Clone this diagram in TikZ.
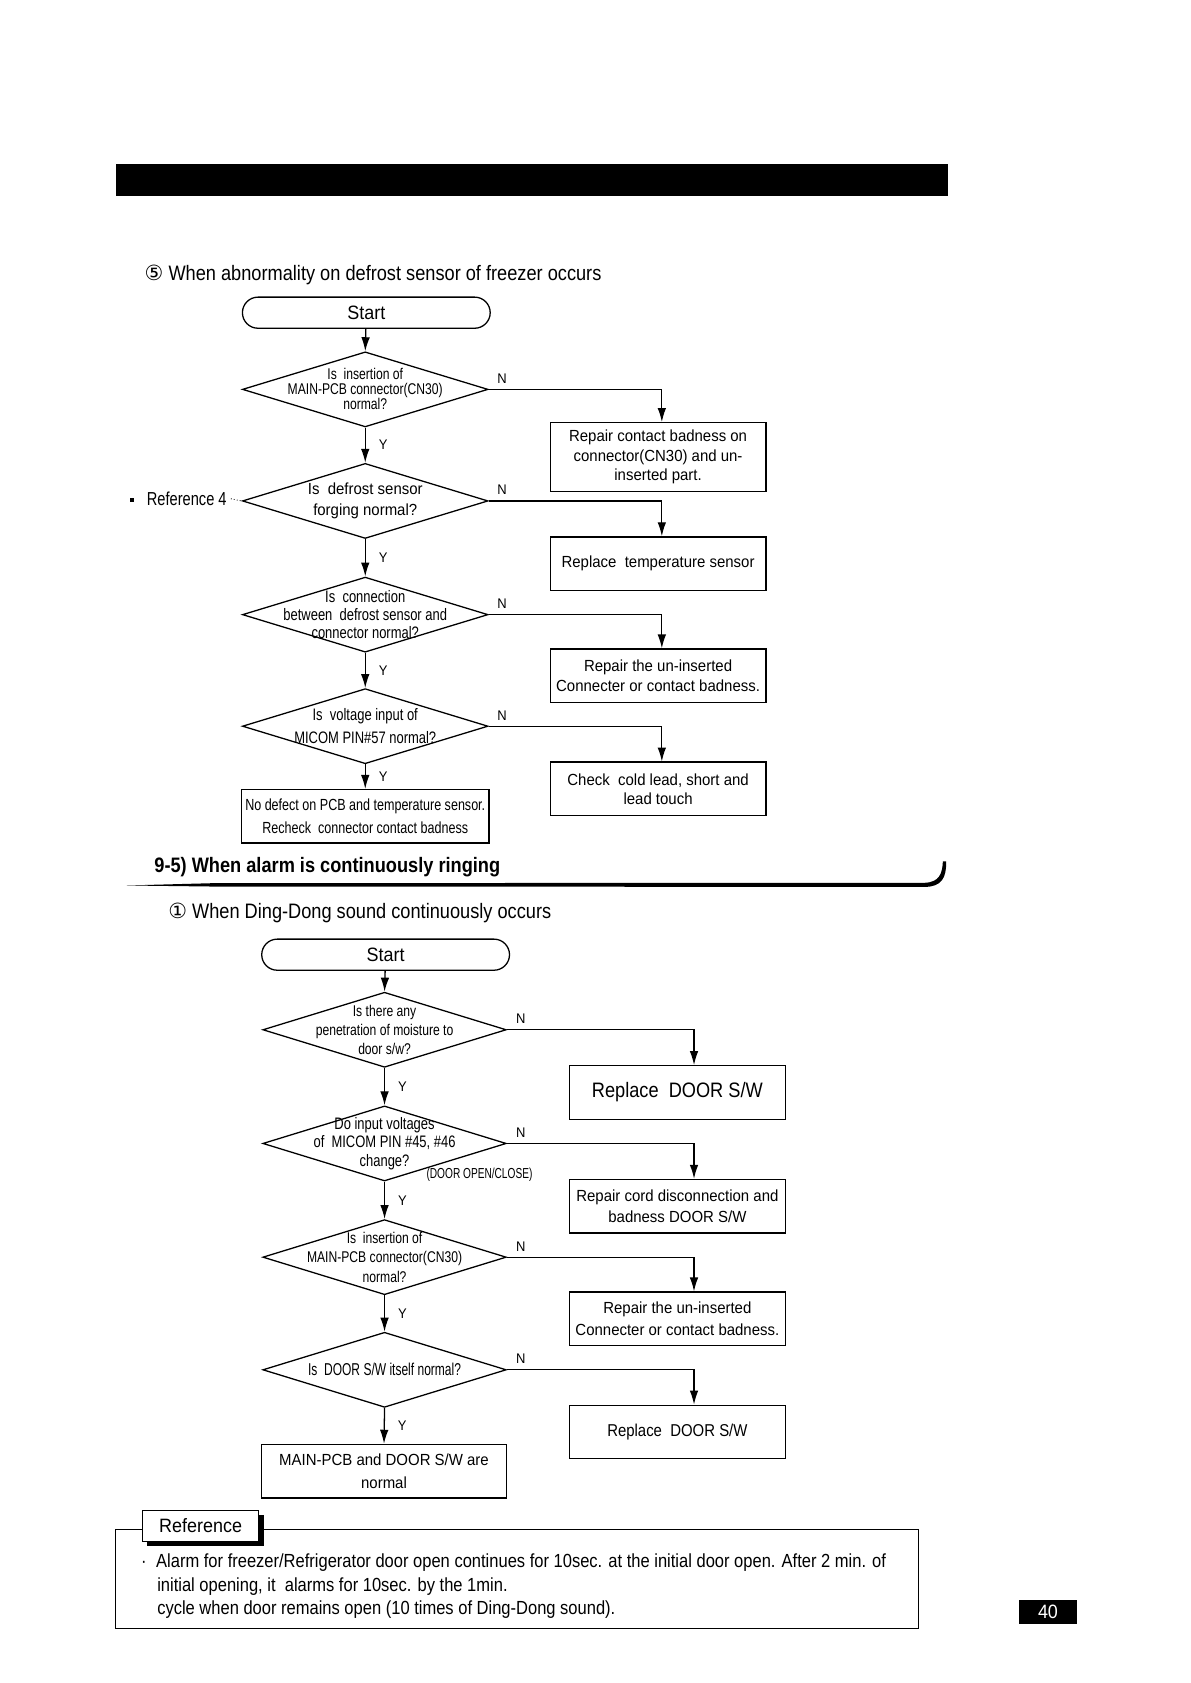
\documentclass[tikz,border=0pt]{standalone}
\usepackage{fontspec}
\setmainfont{Liberation Sans}
\newfontfamily\fntbox[FakeStretch=0.93]{Liberation Sans}
\newfontfamily\fntq[FakeStretch=0.87]{Liberation Sans}
\newfontfamily\fntc[FakeStretch=0.78]{Liberation Sans}
\newfontfamily\fntx[FakeStretch=0.70]{Liberation Sans}
\newfontfamily\fntsym{DejaVu Sans}
\usetikzlibrary{arrows.meta}
\usetikzlibrary{shapes.geometric}
\usetikzlibrary{positioning}
\tikzset{
  % arrow tips and connectors
  >={Latex[length=13pt,width=8pt]},
  line/.style={draw, ->},
  % flowchart blocks
  decision/.style={draw, diamond, inner sep=0pt, minimum width=229pt, minimum height=70pt},
  action/.style={draw, rectangle, minimum width=201pt, minimum height=50pt, align=center, inner sep=2pt, font=\fntbox\fontsize{15}{18}\selectfont},
  terminal/.style={draw, rectangle, rounded corners=14.5pt, minimum width=231pt, minimum height=29pt, font=\fntbox\fontsize{18}{20}\selectfont},
  qtext/.style={align=center, inner sep=0pt},
  ylab/.style={anchor=west, xshift=11pt, inner sep=1pt, font=\fntbox\fontsize{13}{13}\selectfont},
  nlab/.style={pos=0.02, anchor=south west, yshift=4pt, inner sep=1pt, font=\fntbox\fontsize{13}{13}\selectfont}
}
\begin{document}
\begin{tikzpicture}[x=1pt, y=-1pt, line width=1.2pt]
    \useasboundingbox (0,0) rectangle (1110,1569);

    % page banner
    \fill (108,153) rectangle (884,183);

    % 5) defrost sensor of freezer
    \node[anchor=west, font=\fntq\fontsize{19.5}{20}\selectfont] (title5) at (131,256) {{\fntsym ⑤} When abnormality on defrost sensor of freezer occurs};

    \node[terminal] (start5) at (341.5,291.5) {Start};
    \node[decision, label={[qtext, font=\fntc\fontsize{14.5}{14}\selectfont]center:{Is\ \ insertion of\\MAIN-PCB connector(CN30)\\normal?}}] (q51) at (340.5,363) {};
    \node[decision, label={[qtext, font=\fntbox\fontsize{15}{20}\selectfont]center:{Is\ \ defrost sensor\\forging normal?}}] (q52) at (340.5,467) {};
    \node[decision, label={[qtext, font=\fntc\fontsize{15.5}{16.5}\selectfont]center:{Is\ \ connection\\between\ \ defrost sensor and\\connector normal?}}] (q53) at (340.5,573) {};
    \node[decision, label={[qtext, font=\fntc\fontsize{15.5}{21}\selectfont]center:{Is\ \ voltage input of\\MICOM PIN\#57 normal?}}] (q54) at (340.5,677) {};
    \node[action, minimum width=231pt, font=\fntc\fontsize{15}{22}\selectfont] (end5) at (340.5,761) {No defect on PCB and temperature sensor.\\Recheck\ \ connector contact badness};

    \node[action, minimum height=64pt] (fix51) at (613.5,426) {Repair contact badness on\\connector(CN30) and un-\\inserted part.};
    \node[action] (fix52) at (613.5,525.5) {Replace\ \ temperature sensor};
    \node[action] (fix53) at (613.5,630) {Repair the un-inserted\\Connecter or contact badness.};
    \node[action] (fix54) at (613.5,735.5) {Check\ \ cold lead, short and\\lead touch};

    \node[anchor=west, font=\fntc\fontsize{17.5}{18}\selectfont] (ref4) at (133,465) {Reference 4};
    \node[fill, minimum size=4pt, inner sep=0pt] (ref4mark) at (123,466) {};
    \draw[dotted, line width=0.8pt] (ref4.east) -- (q52.west);

    \path[line] (start5) -- (q51.north);
    \path[line] (q51.south) -- node[ylab] {Y} (q52.north);
    \path[line] (q52.south) -- node[ylab] {Y} (q53.north);
    \path[line] (q53.south) -- node[ylab] {Y} (q54.north);
    \path[line] (q54.south) -- node[ylab] {Y} (end5.north);
    \path[line] (q51.east) -| node[nlab] {N} ([xshift=3.5pt]fix51.north);
    \path[line] (q52.east) -| node[nlab] {N} ([xshift=3.5pt]fix52.north);
    \path[line] (q53.east) -| node[nlab] {N} ([xshift=3.5pt]fix53.north);
    \path[line] (q54.east) -| node[nlab] {N} ([xshift=3.5pt]fix54.north);

    % 9-5) alarm header
    \node[anchor=west, font=\fntq\bfseries\fontsize{19.5}{20}\selectfont] (sec95) at (140,808) {9-5) When alarm is continuously ringing};
    \fill (118,825.5) -- (200,823.3) -- (862,823) .. controls (876,822.5) and (878.5,814) .. (879,803)
        -- (882,803) .. controls (882.5,818) and (878,826.8) .. (862,826.8) -- (200,826.5) -- cycle;

    % 1) Ding-Dong sound
    \node[anchor=west, font=\fntq\fontsize{19.5}{20}\selectfont] (title1) at (153,851) {{\fntsym ①} When Ding-Dong sound continuously occurs};

    \node[terminal] (start1) at (359.5,890) {Start};
    \node[decision, minimum width=227pt, label={[qtext, font=\fntc\fontsize{14.5}{17.5}\selectfont]center:{Is there any\\penetration of moisture to\\door s/w?}}] (q11) at (358.5,960) {};
    \node[decision, minimum width=227pt, label={[qtext, font=\fntc\fontsize{15.5}{17}\selectfont]center:{Do input voltages\\of\ \ MICOM PIN \#45, \#46\\change?}}] (q12) at (358.5,1066) {};
    \node[decision, minimum width=227pt, label={[qtext, font=\fntc\fontsize{14.5}{18}\selectfont]center:{Is\ \ insertion of\\MAIN-PCB connector(CN30)\\normal?}}] (q13) at (358.5,1172) {};
    \node[decision, minimum width=227pt, label={[qtext, font=\fntx\fontsize{16}{16}\selectfont]center:{Is\ \ DOOR S/W itself normal?}}] (q14) at (358.5,1277) {};
    \node[action, minimum width=228pt, font=\fntbox\fontsize{15}{21}\selectfont] (end1) at (358,1371.5) {MAIN-PCB and DOOR S/W are\\normal};
    \node[font=\fntx\fontsize{13.5}{14}\selectfont, inner sep=0pt] (doorlab) at (447,1095) {(DOOR OPEN/CLOSE)};

    \node[action, font=\fntq\fontsize{19.5}{20}\selectfont] (fix11) at (631.5,1018.5) {Replace\ \ DOOR S/W};
    \node[action, font=\fntbox\fontsize{15}{20}\selectfont] (fix12) at (631.5,1124.5) {Repair cord disconnection and\\badness DOOR S/W};
    \node[action, font=\fntbox\fontsize{15}{20}\selectfont] (fix13) at (631.5,1229.5) {Repair the un-inserted\\Connecter or contact badness.};
    \node[action, font=\fntq\fontsize{16}{18}\selectfont] (fix14) at (631.5,1335) {Replace\ \ DOOR S/W};

    \path[line] (start1) -- (q11.north);
    \path[line] (q11.south) -- node[ylab] {Y} (q12.north);
    \path[line] (q12.south) -- node[ylab] {Y} (q13.north);
    \path[line] (q13.south) -- node[ylab] {Y} (q14.north);
    \path[line] (q14.south) -- node[ylab] {Y} (end1.north);
    \path[line] (q11.east) -| node[nlab] {N} ([xshift=15.5pt]fix11.north);
    \path[line] (q12.east) -| node[nlab] {N} ([xshift=15.5pt]fix12.north);
    \path[line] (q13.east) -| node[nlab] {N} ([xshift=15.5pt]fix13.north);
    \path[line] (q14.east) -| node[nlab] {N} ([xshift=15.5pt]fix14.north);

    % reference note
    \draw (243,1426) -- (856,1426) -- (856,1518) -- (108,1518) -- (108,1426) -- (133,1426);
    \fill (137,1412) rectangle (246,1441);
    \node[draw, fill=white, minimum width=108pt, minimum height=29pt, inner sep=0pt, font=\fntbox\fontsize{18}{20}\selectfont] (reftab) at (187,1422.5) {Reference};
    \node[anchor=north west, align=left, inner sep=0pt, font=\fntq\fontsize{17.7}{22}\selectfont] (refnote) at (131,1448) {\makebox[14pt][l]{·}Alarm for freezer/Refrigerator door open continues for 10sec. at the initial door open. After 2 min. of\\
        \hspace*{15pt}initial opening, it\ \ alarms for 10sec. by the 1min.\\
        \hspace*{15pt}cycle when door remains open (10 times of Ding-Dong sound).};

    % page number
    \node[fill=black, text=white, minimum width=54pt, minimum height=22pt, inner sep=0pt, font=\fntbox\fontsize{18}{20}\selectfont] (pageno) at (977,1503) {40};
\end{tikzpicture}
\end{document}
